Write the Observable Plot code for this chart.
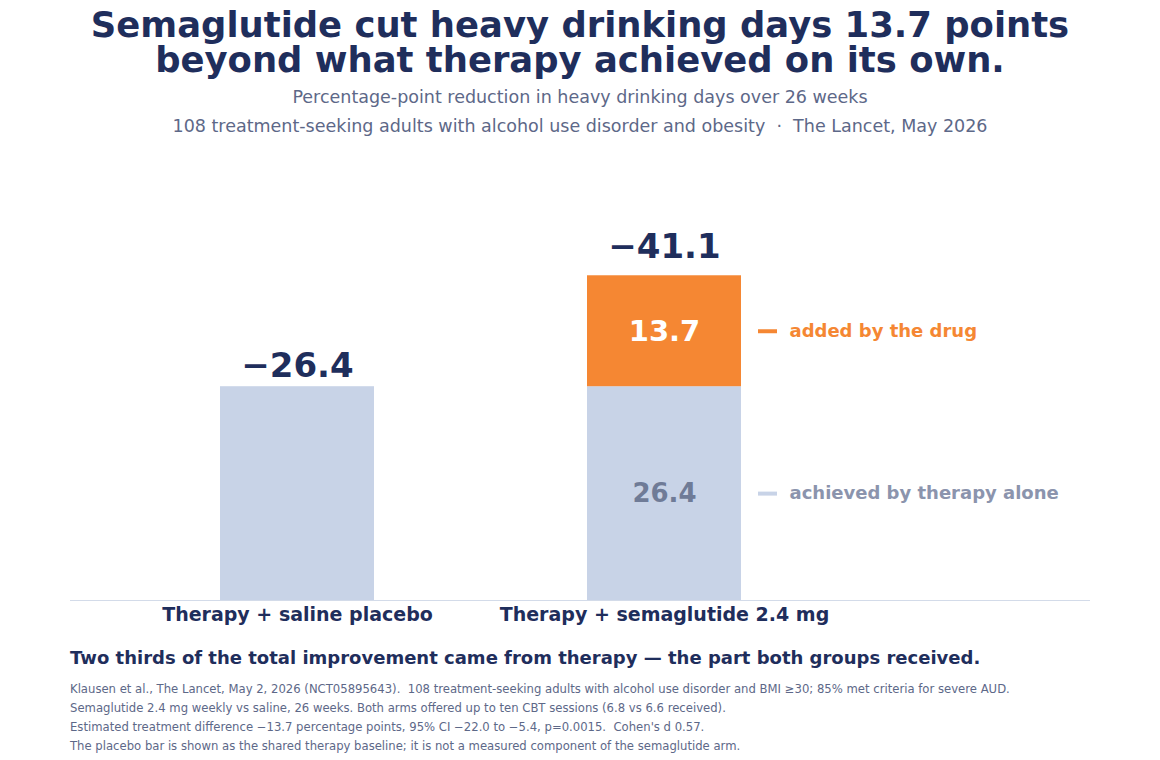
<!DOCTYPE html>
<html>
<head>
<meta charset="utf-8">
<script src="https://cdn.jsdelivr.net/npm/d3@7"></script>
<script src="https://cdn.jsdelivr.net/npm/@observablehq/plot@0.6"></script>
<style>
  html, body { margin: 0; padding: 0; background: #fff; }
  body { width: 1160px; font-family: "DejaVu Sans", sans-serif; }
  .titlewrap { padding-top: 7px; }
  .title { text-align: center; font-weight: bold; font-size: 35.4px; line-height: 35px; height: 35px; color: #1f2e5c; white-space: nowrap; }
  .sub { text-align: center; font-size: 17.5px; line-height: 22px; color: #5d6888; }
  .sub1 { margin-top: 9px; }
  .sub2 { margin-top: 7px; }
  #chart { margin-top: 13px; height: 490px; }
  #chart svg { display: block; }
  .caption { margin: 7px 0 0 70px; font-weight: bold; font-size: 18px; line-height: 22px; color: #1f2e5c; }
  .notes { margin: 11px 0 0 70px; font-size: 11.65px; line-height: 19px; color: #5d6888; }
</style>
</head>
<body>
<div class="titlewrap">
<div class="title">Semaglutide cut heavy drinking days 13.7 points</div>
<div class="title">beyond what therapy achieved on its own.</div>
</div>
<div class="sub sub1">Percentage-point reduction in heavy drinking days over 26 weeks</div>
<div class="sub sub2">108 treatment-seeking adults with alcohol use disorder and obesity &nbsp;·&nbsp; The Lancet, May 2026</div>
<div id="chart"></div>
<div class="caption">Two thirds of the total improvement came from therapy — the part both groups received.</div>
<div class="notes">
Klausen et al., The Lancet, May 2, 2026 (NCT05895643).&nbsp; 108 treatment-seeking adults with alcohol use disorder and BMI ≥30; 85% met criteria for severe AUD.<br>
Semaglutide 2.4 mg weekly vs saline, 26 weeks. Both arms offered up to ten CBT sessions (6.8 vs 6.6 received).<br>
Estimated treatment difference −13.7 percentage points, 95% CI −22.0 to −5.4, p=0.0015.&nbsp; Cohen's d 0.57.<br>
The placebo bar is shown as the shared therapy baseline; it is not a measured component of the semaglutide arm.
</div>
<script>
// ---- data ----
const arms = ["Therapy + saline placebo", "Therapy + semaglutide 2.4 mg"];
const therapyValues = [26.4, 26.4];
const drugValues = [0, 13.7];
const totalValues = [26.4, 41.1];
const totalLabels = ["−26.4", "−41.1"];
const segmentNames = ["achieved by therapy alone", "added by the drug"];
const segmentColors = ["#c8d3e7", "#f58733"];

// ---- derived tables ----
const rows = [];
arms.forEach((a, i) => {
  rows.push({arm: a, part: segmentNames[0], value: therapyValues[i]});
  if (drugValues[i] > 0) rows.push({arm: a, part: segmentNames[1], value: drugValues[i]});
});
const totals = arms.map((a, i) => ({arm: a, total: totalValues[i], label: totalLabels[i]}));
const drugArm = arms[1];
const segs = [
  {arm: drugArm, part: segmentNames[0], mid: therapyValues[1] / 2, value: therapyValues[1]},
  {arm: drugArm, part: segmentNames[1], mid: therapyValues[1] + drugValues[1] / 2, value: drugValues[1]}
];

const chart = Plot.plot({
  width: 1160,
  height: 490,
  marginLeft: 70,
  marginRight: 70,
  marginTop: 20,
  marginBottom: 40,
  style: {fontFamily: "DejaVu Sans, sans-serif", background: "#fff"},
  x: {domain: arms, range: [113.5, 847.5], paddingInner: 0.58, paddingOuter: 0.29, label: null},
  y: {domain: [0, 53.1], axis: null},
  color: {domain: segmentNames, range: segmentColors},
  marks: [
    Plot.barY(rows, Plot.stackY({x: "arm", y: "value", fill: "part", order: segmentNames})),
    Plot.ruleY([0], {stroke: "#d3dbe9", strokeWidth: 1}),
    Plot.axisX({tickSize: 0, tickPadding: 7, fontSize: 19, fontWeight: "bold", fill: "#1f2e5c", label: null}),
    Plot.text(totals, {x: "arm", y: "total", text: "label", lineAnchor: "bottom", dy: -10, fontSize: 34, fontWeight: "bold", fill: "#1f2e5c"}),
    Plot.text(segs, {x: "arm", y: "mid", text: d => d.value.toFixed(1), fontSize: d => d.part === segmentNames[1] ? 29 : 26, fontWeight: "bold",
      fill: d => d.part === segmentNames[1] ? "#ffffff" : "#6f7b97"}),
    Plot.tickY(segs, {x: "arm", y: "mid", stroke: "part", strokeWidth: 4, dx: 171, insetRight: 135}),
    Plot.text(segs, {x: "arm", y: "mid", text: "part", textAnchor: "start", dx: 125, fontSize: 18, fontWeight: "bold",
      fill: d => d.part === segmentNames[1] ? "#f58733" : "#8b94ad"})
  ]
});
document.getElementById("chart").appendChild(chart);
</script>
</body>
</html>
